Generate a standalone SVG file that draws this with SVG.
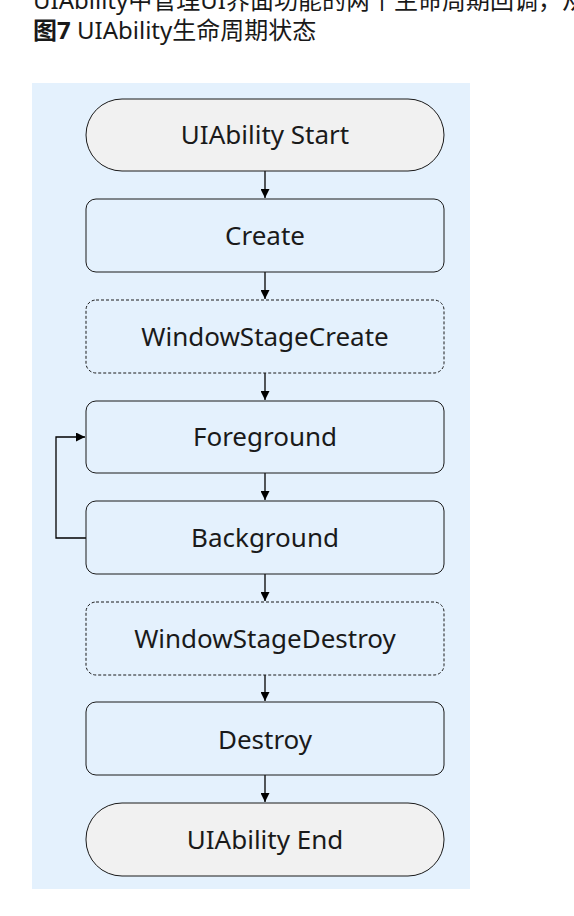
<svg xmlns="http://www.w3.org/2000/svg" width="574" height="916" viewBox="0 0 574 916">
<defs>
<style>
.t{font-family:"Noto Sans","Open Sans","Noto Sans CJK SC",sans-serif;font-size:26px;fill:#1a1a1a;text-anchor:middle}
.cap{font-family:"Noto Sans","Noto Sans CJK SC",sans-serif;font-size:24px;fill:#191919}
.pill{fill:#f1f1f1;stroke:#1a1a1a;stroke-width:1}
.box{fill:#e4f1fd;stroke:#1a1a1a;stroke-width:1}
.dash{fill:#e4f1fd;stroke:#1a1a1a;stroke-width:1;stroke-dasharray:3 2}
.c{fill:none;stroke:#000;stroke-width:1.3}
</style>
<marker id="ah" viewBox="0 0 10 10" refX="10" refY="5" markerWidth="9" markerHeight="9" markerUnits="userSpaceOnUse" orient="auto"><path d="M0,0 L10,5 L0,10 z" fill="#000"/></marker>
</defs>
<rect width="574" height="916" fill="#fff"/>
<text class="cap" x="33" y="9">UIAbility中管理UI界面功能的两个生命周期回调，从</text>
<text class="cap" x="33" y="39"><tspan font-weight="bold">图7</tspan> UIAbility生命周期状态</text>
<rect x="32" y="83" width="438" height="806" fill="#e4f1fd"/>
<g id="connectors">
<line class="c" x1="265" y1="171" x2="265" y2="198" marker-end="url(#ah)"/>
<line class="c" x1="265" y1="272" x2="265" y2="299" marker-end="url(#ah)"/>
<line class="c" x1="265" y1="373" x2="265" y2="400" marker-end="url(#ah)"/>
<line class="c" x1="265" y1="473" x2="265" y2="500" marker-end="url(#ah)"/>
<line class="c" x1="265" y1="574" x2="265" y2="601" marker-end="url(#ah)"/>
<line class="c" x1="265" y1="675" x2="265" y2="701" marker-end="url(#ah)"/>
<line class="c" x1="265" y1="775" x2="265" y2="802" marker-end="url(#ah)"/>
<polyline class="c" points="86,538 56,538 56,437 85,437" marker-end="url(#ah)"/>
</g>
<g id="start"><rect class="pill" x="86" y="99" width="358" height="72" rx="36"/><text class="t" x="265" y="144">UIAbility Start</text></g>
<g id="create"><rect class="box" x="86" y="199" width="358" height="73" rx="10"/><text class="t" x="265" y="245">Create</text></g>
<g id="wsc"><rect class="dash" x="86" y="300" width="358" height="73" rx="10"/><text class="t" x="265" y="346">WindowStageCreate</text></g>
<g id="fg"><rect class="box" x="86" y="401" width="358" height="72" rx="10"/><text class="t" x="265" y="446">Foreground</text></g>
<g id="bg"><rect class="box" x="86" y="501" width="358" height="73" rx="10"/><text class="t" x="265" y="547">Background</text></g>
<g id="wsd"><rect class="dash" x="86" y="602" width="358" height="73" rx="10"/><text class="t" x="265" y="648">WindowStageDestroy</text></g>
<g id="destroy"><rect class="box" x="86" y="702" width="358" height="73" rx="10"/><text class="t" x="265" y="749">Destroy</text></g>
<g id="end"><rect class="pill" x="86" y="803" width="358" height="73" rx="36"/><text class="t" x="265" y="849">UIAbility End</text></g>
</svg>
